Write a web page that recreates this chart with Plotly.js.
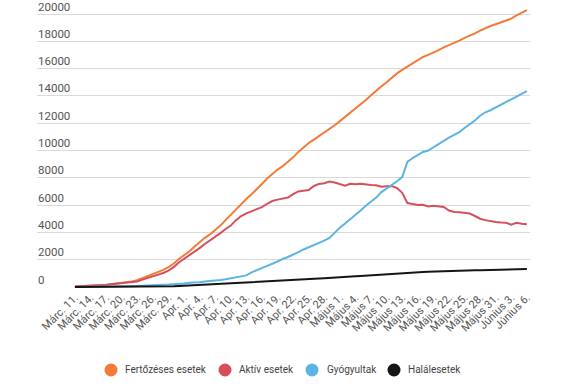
<!DOCTYPE html>
<html>
<head>
<meta charset="utf-8">
<script src="https://cdn.plot.ly/plotly-3.0.1.min.js"></script>
<style>
html,body{margin:0;padding:0;background:#fff;}
#chart{width:575px;height:387px;}
</style>
</head>
<body>
<div id="chart"></div>
<script>
// Tick labels every 3rd day (Márc. 11. ... Június 6.)
var tickLabels = ["Márc. 11.","Márc. 14.","Márc. 17.","Márc. 20.","Márc. 23.","Márc. 26.","Márc. 29.",
  "Apr. 1.","Apr. 4.","Apr. 7.","Apr. 10.","Apr. 13.","Apr. 16.","Apr. 19.","Apr. 22.","Apr. 25.","Apr. 28.",
  "Május 1.","Május 4.","Május 7.","Május 10.","Május 13.","Május 16.","Május 19.","Május 22.","Május 25.","Május 28.","Május 31.",
  "Június 3.","Június 6."];

var seriesNames = ["Fertőzéses esetek","Aktív esetek","Gyógyultak","Halálesetek"];
var seriesColors = ["#F47A3A","#D4505B","#5BB4E3","#151515"];

// daily values, Márc. 11. .. Június 6.
var fertozott = [40,50,70,90,115,140,170,220,260,290,340,400,500,650,800,900,1050,1250,1450,1700,
  2050,2300,2600,2950,3300,3600,3850,4150,4500,4900,5300,5700,6100,6450,6800,7150,7550,7950,8300,8600,
  8850,9150,9500,9900,10250,10550,10800,11050,11300,11550,11850,12150,12450,12800,13100,13400,13700,14050,14400,14700,
  15000,15350,15650,15900,16150,16400,16650,16850,17000,17150,17350,17550,17700,17850,18050,18250,18400,18580,18780,18960,
  19120,19250,19390,19510,19660,19900,20100,20290];

var aktiv = [35,45,60,80,105,130,150,195,230,255,285,330,410,540,660,740,860,1030,1200,1450,
  1800,2050,2300,2580,2850,3150,3400,3650,3950,4250,4500,4900,5200,5400,5550,5700,5850,6100,6300,6400,
  6450,6550,6800,7000,7050,7100,7400,7550,7600,7720,7650,7550,7420,7560,7530,7560,7500,7480,7450,7350,
  7380,7400,7250,6900,6150,6050,6000,6020,5900,5950,5880,5860,5600,5500,5480,5430,5380,5200,5000,4900,
  4820,4760,4720,4700,4560,4700,4640,4600];

var gyogyult = [6,6,9,9,9,9,16,19,25,31,52,64,73,82,86,94,115,150,175,206,
  220,252,306,317,356,406,431,460,505,564,640,702,768,852,1075,1250,1400,1550,1700,1900,
  2050,2200,2350,2550,2750,2900,3050,3200,3400,3600,4000,4350,4650,4950,5250,5600,5950,6250,6550,6950,
  7200,7450,7750,8050,9160,9450,9650,9890,10000,10250,10450,10700,10950,11150,11350,11650,11900,12200,12550,12800,
  12950,13150,13300,13500,13700,13900,14150,14350];

var halal = [0,0,0,0,0,0,0,0,0,0,0,2,7,11,17,23,26,37,43,52,
  69,85,94,133,146,151,176,197,220,248,270,291,316,333,351,372,392,411,421,451,
  478,498,524,545,567,575,600,619,641,675,693,725,744,771,790,812,839,888,908,939,
  955,982,1016,1046,1070,1081,1097,1107,1120,1137,1146,1156,1164,1169,1187,1202,1216,1226,1232,1241,
  1250,1259,1269,1276,1288,1296,1302,1316];

var yTicks = [0,2000,4000,6000,8000,10000,12000,14000,16000,18000,20000];
var yTickText = ["0","2000","4000","6000","8000","10000","12000","14000","16000","18000","20000"];

var allSeries = [fertozott, aktiv, gyogyult, halal];
var days = fertozott.map(function(_, i){ return i; });
var tickVals = tickLabels.map(function(_, i){ return i * 3; });

var traces = [];
allSeries.forEach(function(s, k){
  traces.push({
    x: days, y: s, type: 'scatter', mode: 'lines', name: seriesNames[k],
    line: {color: seriesColors[k], width: 2}, showlegend: false, hoverinfo: 'skip'
  });
});

// plot area geometry (px)
var PL = 37, PR = 530, PT = 6, PB = 288;
var PW = PR - PL, PH = PB - PT;
function px2paperX(px){ return (px - PL) / PW; }
function px2paperY(py){ return (PB - py) / PH; }

var annotations = [];
// y tick labels above the gridlines, left aligned
yTicks.forEach(function(v, i){
  annotations.push({
    xref: 'paper', yref: 'y', x: 0, y: v, xanchor: 'left', yanchor: 'middle',
    xshift: 0, yshift: 7.5, showarrow: false, text: yTickText[i], borderpad: 0,
    font: {family: 'Roboto, sans-serif', size: 11.5, color: '#555'}
  });
});

// custom legend: round markers + labels
var legendCircleX = [111, 225, 312, 394];
var legendTextX = [125, 239, 327, 408];
var legendY = 370;
var shapes = [];
seriesNames.forEach(function(n, k){
  shapes.push({
    type: 'circle', xref: 'paper', yref: 'paper',
    xsizemode: 'pixel', ysizemode: 'pixel',
    xanchor: px2paperX(legendCircleX[k]), yanchor: px2paperY(legendY),
    x0: -6.5, x1: 6.5, y0: -6.5, y1: 6.5,
    fillcolor: seriesColors[k], line: {width: 0}
  });
  annotations.push({
    xref: 'paper', yref: 'paper', x: px2paperX(legendTextX[k]), y: px2paperY(legendY),
    xanchor: 'left', yanchor: 'middle', xshift: -1, showarrow: false, text: n, borderpad: 0,
    font: {family: 'Roboto, sans-serif', size: 10, color: '#444'}
  });
});

var layout = {
  width: 575, height: 387,
  margin: {l: PL, r: 575 - PR, t: PT, b: 387 - PB},
  paper_bgcolor: '#fff', plot_bgcolor: '#fff',
  font: {family: 'Roboto, sans-serif', color: '#555', size: 11},
  xaxis: {
    range: [-7.3, 87.6],
    tickmode: 'array', tickvals: tickVals, ticktext: tickLabels,
    tickangle: -45, tickfont: {size: 11, color: '#555'},
    showgrid: false, zeroline: false, showline: false, ticks: ''
  },
  yaxis: {
    range: [-73, 20586],
    tickmode: 'array', tickvals: yTicks, showticklabels: false,
    showgrid: true, gridcolor: '#d9d9d9', gridwidth: 1,
    zeroline: false, showline: false, ticks: ''
  },
  showlegend: false,
  shapes: shapes,
  annotations: annotations
};

Plotly.newPlot('chart', traces, layout, {displayModeBar: false, staticPlot: true});
</script>
</body>
</html>
